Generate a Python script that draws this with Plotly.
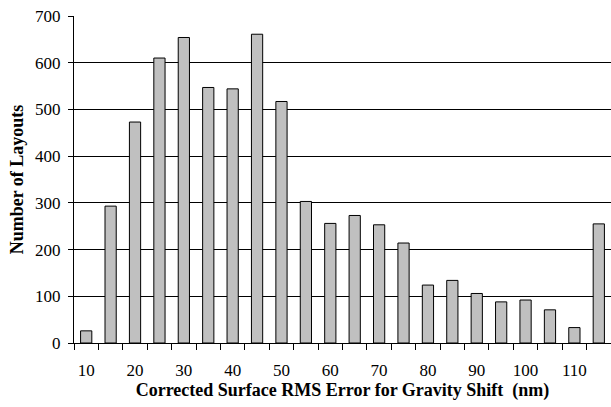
import plotly.graph_objects as go

bins = [10, 15, 20, 25, 30, 35, 40, 45, 50, 55, 60, 65, 70, 75, 80, 85, 90, 95, 100, 105, 110, 115]
counts = [26, 293, 473, 610, 654, 547, 544, 661, 517, 303, 256, 273, 253, 214, 124, 134, 106, 88, 92, 71, 33, 255]
label_vals = [10, 20, 30, 40, 50, 60, 70, 80, 90, 100, 110]
boundaries = [b - 2.5 for b in bins] + [bins[-1] + 2.5]

fig = go.Figure()
fig.add_trace(go.Bar(
    x=bins, y=counts, width=2.3,
    marker=dict(color="#C0C0C0", line=dict(color="black", width=1)),
))

font_serif = "Liberation Serif, Times New Roman, serif"
fig.update_layout(
    width=611, height=407,
    margin=dict(l=74, r=0, t=16, b=64),
    paper_bgcolor="white", plot_bgcolor="white",
    showlegend=False,
    font=dict(family=font_serif, color="black", size=17),
    xaxis=dict(
        range=[7.5, 117.5],
        tickmode="array", tickvals=label_vals, ticktext=[str(v) for v in label_vals],
        ticks="", showgrid=False, zeroline=False,
        showline=True, linecolor="black", linewidth=1,
        tickfont=dict(size=17), ticklabelstandoff=12,
        minor=dict(tickmode="array", tickvals=boundaries, ticks="outside",
                   ticklen=6, tickcolor="black", tickwidth=1, showgrid=False),
        title=dict(text="<b>Corrected Surface RMS Error for Gravity Shift \u00a0(nm)</b>",
                   font=dict(size=18), standoff=2),
        fixedrange=True,
    ),
    yaxis=dict(
        range=[0, 700], tickmode="array", tickvals=list(range(0, 701, 100)),
        ticks="outside", ticklen=5, tickcolor="black", tickwidth=1,
        showgrid=True, gridcolor="black", gridwidth=1,
        zeroline=False, showline=True, linecolor="black", linewidth=1,
        tickfont=dict(size=17), ticklabelstandoff=4,
        title=dict(text="<b>Number of Layouts</b>", font=dict(size=18), standoff=6),
    ),
)

fig.write_html("out.html")
